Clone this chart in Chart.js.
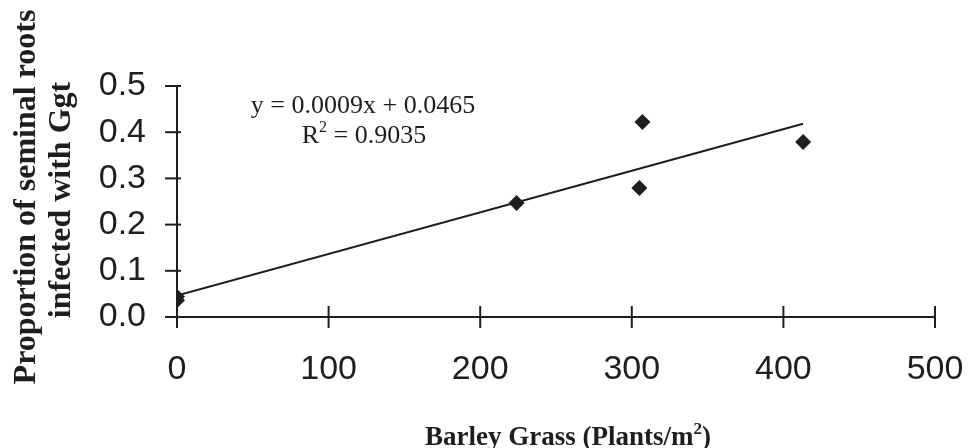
<!DOCTYPE html>
<html>
<head>
<meta charset="utf-8">
<script src="https://cdn.jsdelivr.net/npm/chart.js@4"></script>
<style>
  html, body { margin: 0; padding: 0; background: #fff; }
  #wrap { width: 968px; height: 448px; }
</style>
</head>
<body>
<div id="wrap"><canvas id="c" width="968" height="448"></canvas></div>
<script>
// Barley grass density vs. proportion of seminal roots infected with Ggt
const density = [0, 0, 224, 305, 307, 413];
const infected = [0.044, 0.036, 0.247, 0.279, 0.422, 0.379];
const xTicks = [0, 100, 200, 300, 400, 500];
const yTicks = [0.0, 0.1, 0.2, 0.3, 0.4, 0.5];

// Linear trend as reported on the chart
const slope = 0.0009;
const intercept = 0.0465;
const rSquared = '0.9035';
const trendRange = [0, 413];

const ink = '#1e1e1e';
const serif = '"Liberation Serif", "Times New Roman", serif';

const points = density.map((x, i) => ({ x: x, y: infected[i] }));
const trend = trendRange.map(x => ({ x: x, y: slope * x + intercept }));

// Text with a raised "2" (superscript), centred on cx
function textWithSup(ctx, before, sup, after, cx, baseline, size, weight) {
  const big = weight + ' ' + size + 'px ' + serif;
  const small = weight + ' ' + Math.round(size * 0.62) + 'px ' + serif;
  ctx.font = big;
  const w1 = ctx.measureText(before).width;
  const w3 = ctx.measureText(after).width;
  ctx.font = small;
  const w2 = ctx.measureText(sup).width;
  let x = cx - (w1 + w2 + w3) / 2;
  ctx.textAlign = 'left';
  ctx.textBaseline = 'alphabetic';
  ctx.font = big;
  ctx.fillText(before, x, baseline);
  x += w1;
  ctx.font = small;
  ctx.fillText(sup, x, baseline - size * 0.42);
  x += w2;
  ctx.font = big;
  ctx.fillText(after, x, baseline);
}

// Cross-shaped tick marks, axis titles and the equation label
const decorations = {
  id: 'decorations',
  afterDraw(chart) {
    const ctx = chart.ctx;
    const xs = chart.scales.x, ys = chart.scales.y;
    const x0 = xs.getPixelForValue(0);
    const y0 = ys.getPixelForValue(0);
    ctx.save();
    ctx.strokeStyle = ink;
    ctx.lineWidth = 2;
    xTicks.forEach(v => {
      const px = xs.getPixelForValue(v);
      ctx.beginPath();
      ctx.moveTo(px, y0 - 11);
      ctx.lineTo(px, y0 + 11);
      ctx.stroke();
    });
    yTicks.forEach(v => {
      const py = ys.getPixelForValue(v);
      ctx.beginPath();
      ctx.moveTo(x0 - 12, py);
      ctx.lineTo(x0 + 4, py);
      ctx.stroke();
    });

    ctx.fillStyle = ink;

    // y-axis title (two lines, rotated)
    ctx.textAlign = 'center';
    ctx.textBaseline = 'alphabetic';
    ctx.font = 'bold 32px ' + serif;
    ctx.save();
    ctx.translate(35, 197);
    ctx.rotate(-Math.PI / 2);
    ctx.fillText('Proportion of seminal roots', 0, 0);
    ctx.fillText('infected with Ggt', -3, 35);
    ctx.restore();

    // x-axis title
    textWithSup(ctx, 'Barley Grass (Plants/m', '2', ')', 568, 445, 27, 'bold');

    // regression equation
    ctx.textAlign = 'center';
    ctx.textBaseline = 'alphabetic';
    ctx.font = '26px ' + serif;
    ctx.fillText('y = ' + slope + 'x + ' + intercept, 363, 113);
    textWithSup(ctx, 'R', '2', ' = ' + rSquared, 364, 143, 26, 'normal');
    ctx.restore();
  }
};

new Chart(document.getElementById('c'), {
  type: 'scatter',
  data: {
    datasets: [
      {
        type: 'line',
        data: trend,
        borderColor: ink,
        borderWidth: 2,
        pointRadius: 0,
        fill: false
      },
      {
        data: points,
        pointStyle: 'rectRot',
        pointRadius: 8,
        backgroundColor: ink,
        borderColor: ink,
        borderWidth: 0
      }
    ]
  },
  options: {
    responsive: false,
    animation: false,
    layout: { padding: { top: 86, right: 33, left: 0, bottom: 0 } },
    plugins: { legend: { display: false }, tooltip: { enabled: false } },
    scales: {
      x: {
        type: 'linear',
        min: 0, max: 500,
        afterBuildTicks: s => { s.ticks = xTicks.map(v => ({ value: v })); },
        afterFit: s => { s.height = 131; s.paddingLeft = 0; s.paddingRight = 0; },
        grid: { display: false, drawTicks: false },
        border: { display: true, color: ink, width: 2 },
        ticks: {
          padding: 32,
          color: ink,
          font: { family: '"Liberation Sans", Arial, sans-serif', size: 34 },
          callback: v => String(v)
        }
      },
      y: {
        type: 'linear',
        min: 0, max: 0.5,
        afterBuildTicks: s => { s.ticks = yTicks.map(v => ({ value: v })); },
        afterFit: s => { s.width = 177; s.paddingTop = 0; s.paddingBottom = 0; },
        grid: { display: false, drawTicks: false },
        border: { display: true, color: ink, width: 2 },
        ticks: {
          padding: 31,
          color: ink,
          font: { family: '"Liberation Sans", Arial, sans-serif', size: 34 },
          callback: v => v.toFixed(1)
        }
      }
    }
  },
  plugins: [decorations]
});
</script>
</body>
</html>
